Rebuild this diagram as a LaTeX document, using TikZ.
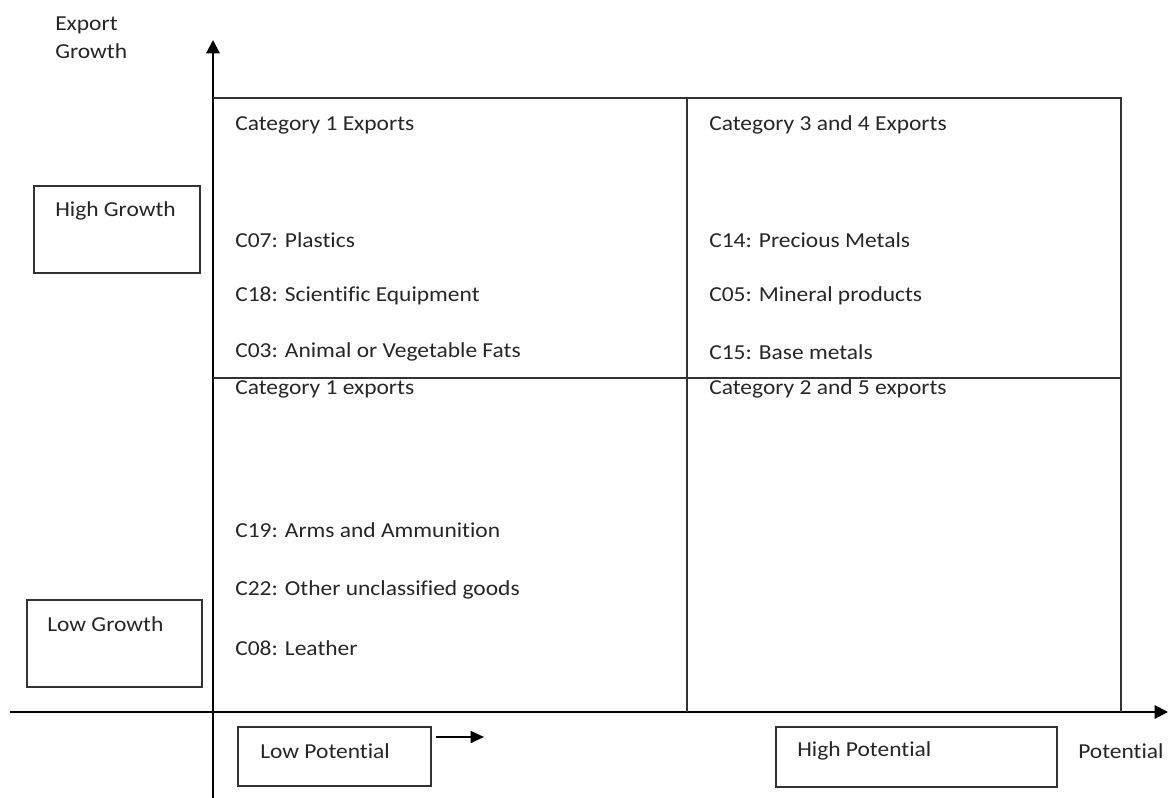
\documentclass[tikz,border=0pt]{standalone}
\usepackage{fontspec}
\setmainfont{Carlito}[FakeStretch=1.1,Ligatures={NoCommon}]
\usetikzlibrary{arrows.meta}
\begin{document}
\begin{tikzpicture}[x=0.75pt,y=-0.75pt,
  lbl/.style={anchor=west,inner sep=0pt,font=\fontsize{16}{19}\selectfont,text=black!85},
  sbox/.style={draw=black!80,line width=1.3pt,inner sep=0pt,minimum width=#1},
  axis/.style={line width=1.5pt,-{Triangle[length=10pt,width=10pt]}},
  grid/.style={line width=1.3pt,draw=black!80}]
\useasboundingbox (0,0) rectangle (1168,798);
% axes
\coordinate (yb) at (213,798);
\coordinate (yt) at (213,40);
\coordinate (xl) at (10,712);
\coordinate (xr) at (1168,712);
\draw[axis] (yb) -- (yt);
\draw[axis] (xl) -- (xr);
% grid
\draw[grid] (213,98) -- (1121,98) -- (1121,712);
\draw[grid] (687,98) -- (687,712);
\draw[grid] (213,378) -- (1121,378);
% axis labels
\node[lbl] (eg1) at (55,25) {Export};
\node[lbl] (eg2) at (55,51) {Growth};
\node[lbl] (pot) at (1078,751) {Potential};
% side boxes
\node[sbox=124.5pt,minimum height=65.25pt] (hgb) at (117,229.5) {};
\node[lbl] (hg) at (55,211) {High Growth};
\node[sbox=131.25pt,minimum height=65.25pt] (lgb) at (114.5,643.5) {};
\node[lbl] (lg) at (47,624) {Low Growth};
\node[sbox=144.75pt,minimum height=44.25pt] (lpb) at (334.5,756.5) {};
\node[lbl] (lp) at (260,751) {Low Potential};
\node[sbox=210.75pt,minimum height=45pt] (hpb) at (916.5,757) {};
\node[lbl] (hp) at (797,751) {High Potential};
\coordinate (ar2) at (484,737);
\draw[line width=1.3pt,-{Triangle[length=10pt,width=9pt]}] (lpb.east |- ar2) ++(4,0) -- (ar2);
% quadrant texts
\node[lbl] (q1) at (235,125) {Category 1 Exports};
\node[lbl] (a1) at (235,240) {C07: Plastics};
\node[lbl] (a2) at (235,296) {C18: Scientific Equipment};
\node[lbl] (a3) at (235,352) {C03: Animal or Vegetable Fats};
\node[lbl] (q2) at (709,125) {Category 3 and 4 Exports};
\node[lbl] (b1) at (709,240) {C14: Precious Metals};
\node[lbl] (b2) at (709,296) {C05: Mineral products};
\node[lbl] (b3) at (709,352) {C15: Base metals};
\node[lbl] (q3) at (235,389) {Category 1 exports};
\node[lbl] (c1) at (235,530) {C19: Arms and Ammunition};
\node[lbl] (c2) at (235,590) {C22: Other unclassified goods};
\node[lbl] (c3) at (235,648) {C08: Leather};
\node[lbl] (q4) at (709,389) {Category 2 and 5 exports};
\end{tikzpicture}
\end{document}
